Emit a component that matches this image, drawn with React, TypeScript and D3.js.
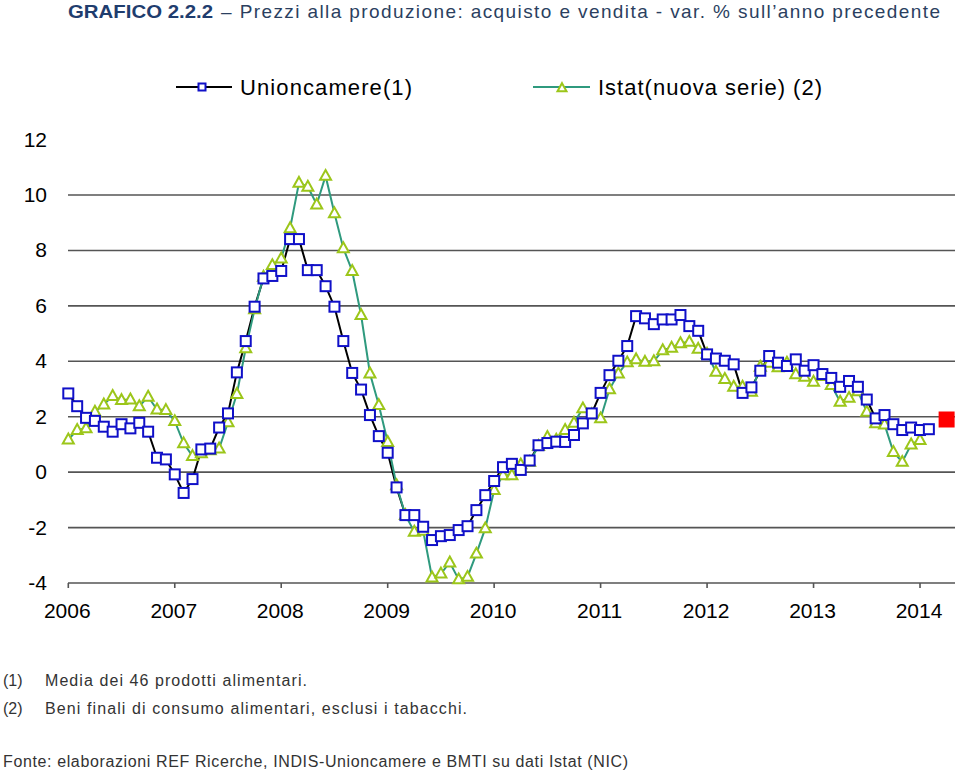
import React from "react";
import * as d3 from "d3";

const years = ["2006", "2007", "2008", "2009", "2010", "2011", "2012", "2013", "2014"];
const yTicks = [-4, -2, 0, 2, 4, 6, 8, 10, 12];

// Monthly values starting Jan 2006
const unioncamere = [
  2.84, 2.38, 1.96, 1.85, 1.64, 1.46, 1.73, 1.58, 1.78, 1.46,
  0.52, 0.46, -0.08, -0.75, -0.25, 0.82, 0.85, 1.61, 2.12, 3.6,
  4.73, 5.97, 6.99, 7.08, 7.26, 8.41, 8.41, 7.29, 7.29, 6.71,
  5.97, 4.73, 3.58, 2.98, 2.06, 1.3, 0.7, -0.55, -1.55, -1.55,
  -1.97, -2.45, -2.31, -2.27, -2.09, -1.95, -1.37, -0.83, -0.32, 0.18,
  0.3, 0.08, 0.42, 0.97, 1.05, 1.1, 1.09, 1.34, 1.76, 2.12,
  2.86, 3.5, 4.02, 4.55, 5.63, 5.55, 5.34, 5.51, 5.51, 5.67,
  5.27, 5.1, 4.25, 4.1, 4.02, 3.89, 2.86, 3.06, 3.66, 4.19,
  3.95, 3.83, 4.07, 3.66, 3.86, 3.54, 3.4, 3.08, 3.29, 3.08,
  2.62, 1.94, 2.06, 1.73, 1.52, 1.61, 1.52, 1.55,
];

const istat = [
  1.18, 1.52, 1.58, 2.18, 2.44, 2.75, 2.6, 2.62, 2.38, 2.72,
  2.26, 2.24, 1.84, 1.04, 0.58, 0.68, 0.79, 0.85, 1.8, 2.82,
  4.47, 5.88, 7.05, 7.47, 7.71, 8.8, 10.44, 10.3, 9.66, 10.69,
  9.34, 8.08, 7.26, 5.67, 3.56, 2.42, 1.09, -0.47, -1.55, -2.15,
  -2.12, -3.8, -3.66, -3.26, -3.87, -3.78, -2.94, -2.03, -0.65, -0.11,
  -0.11, 0.28, 0.37, 0.94, 1.27, 1.17, 1.52, 1.78, 2.3, 2.09,
  1.94, 2.99, 3.56, 3.96, 4.07, 3.98, 4.0, 4.4, 4.49, 4.65,
  4.7, 4.45, 4.27, 3.62, 3.36, 3.08, 3.08, 2.9, 3.8, 3.95,
  3.78, 3.95, 3.53, 3.44, 3.26, 3.47, 3.14, 2.54, 2.68, 2.92,
  2.18, 1.76, 1.72, 0.73, 0.37, 1.0, 1.16,
];

const forecast = [{ index: 99, value: 1.9 }];

const seriesNames = ["Unioncamere(1)", "Istat(nuova serie) (2)"];
const titleBold = "GRAFICO 2.2.2";
const titleRest = "– Prezzi alla produzione: acquisto e vendita - var. % sull’anno precedente";
const notes = [
  ["(1)", "Media dei 46 prodotti alimentari."],
  ["(2)", "Beni finali di consumo alimentari, esclusi i tabacchi."],
];
const noteLengths = [262, 422];
const source = "Fonte: elaborazioni REF Ricerche, INDIS-Unioncamere e BMTI su dati Istat (NIC)";

const BLUE = "#1010C8";
const TEAL = "#2F9A7E";
const YG = "#9CC61A";

function tri(cx: number, cy: number, s: number) {
  const h = s * 0.9;
  return `M${cx},${cy - h * 0.6}L${cx + s / 2},${cy + h * 0.4}L${cx - s / 2},${cy + h * 0.4}Z`;
}

export default function App() {
  const x = d3.scaleLinear().domain([0, 96]).range([68.3, 920]);
  const y = d3.scaleLinear().domain([-4, 12]).range([583, 139.6]);
  const line = d3
    .line<number>()
    .x((_, i) => x(i))
    .y((d) => y(d));
  const font = "'Liberation Sans', Arial, sans-serif";
  return (
    <svg
      width={960}
      height={772}
      style={{ position: "absolute", left: 0, top: 0, background: "#fff" }}
      fontFamily={font}
    >
      <rect width={960} height={772} fill="#fff" />
      {/* Title */}
      <text x={68} y={18} fontSize={19} fill="#1F3D6E" fontWeight="bold" textLength={145} lengthAdjust="spacingAndGlyphs">{titleBold}</text>
      <text x={221} y={18} fontSize={19} fill="#2B3F5F" textLength={719} lengthAdjust="spacing">{titleRest}</text>

      {/* Legend */}
      <line x1={176} x2={232} y1={87} y2={87} stroke="#000" strokeWidth={2} />
      <rect x={198.5} y={83.5} width={7} height={7} fill="#fff" stroke={BLUE} strokeWidth={2} />
      <text x={240} y={95} fontSize={22} fill="#000" textLength={172} lengthAdjust="spacing">{seriesNames[0]}</text>
      <line x1={533} x2={590} y1={87} y2={87} stroke={TEAL} strokeWidth={2} />
      <path d={tri(562, 88, 9)} fill="#fff" stroke={YG} strokeWidth={2} />
      <text x={598} y={95} fontSize={22} fill="#000" textLength={224} lengthAdjust="spacing">{seriesNames[1]}</text>

      {/* Gridlines */}
      {yTicks.filter((t) => t > -4 && t < 12).map((t) => (
        <line key={t} x1={68} x2={955} y1={y(t)} y2={y(t)} stroke="#555" strokeWidth={1.6} />
      ))}
      {/* Axis */}
      <line x1={68} x2={955} y1={y(-4)} y2={y(-4)} stroke="#555" strokeWidth={1.6} />
      {years.map((yr, i) => (
        <g key={yr}>
          <line x1={x(i * 12)} x2={x(i * 12)} y1={y(-4)} y2={y(-4) + 5} stroke="#555" strokeWidth={1.6} />
          <text x={x(i * 12) - 1} y={618} fontSize={21} textAnchor="middle" fill="#000">{yr}</text>
        </g>
      ))}
      {yTicks.map((t) => (
        <text key={t} x={47} y={y(t) + 7} fontSize={21} textAnchor="end" fill="#000">{t}</text>
      ))}

      {/* Lines */}
      <path d={line(unioncamere) || ""} fill="none" stroke="#000" strokeWidth={2} />
      <path d={line(istat) || ""} fill="none" stroke={TEAL} strokeWidth={2} />
      {istat.map((v, i) => (
        <path key={"t" + i} d={tri(x(i), y(v), 11)} fill="#fff" stroke={YG} strokeWidth={2} />
      ))}
      {unioncamere.map((v, i) => (
        <rect key={"s" + i} x={x(i) - 5} y={y(v) - 5} width={10} height={10} fill="#fff" stroke={BLUE} strokeWidth={2} />
      ))}
      {forecast.map((f) => (
        <rect key={f.index} x={x(f.index) - 8} y={y(f.value) - 8} width={16} height={16} fill="#FF0000" />
      ))}

      {/* Notes */}
      {notes.map((n, i) => (
        <g key={n[0]} fontSize={16} fill="#333">
          <text x={3} y={686 + i * 28}>{n[0]}</text>
          <text x={45} y={686 + i * 28} textLength={noteLengths[i]} lengthAdjust="spacing">{n[1]}</text>
        </g>
      ))}
      <text x={3} y={767} fontSize={16} fill="#333" textLength={625} lengthAdjust="spacing">{source}</text>
    </svg>
  );
}
